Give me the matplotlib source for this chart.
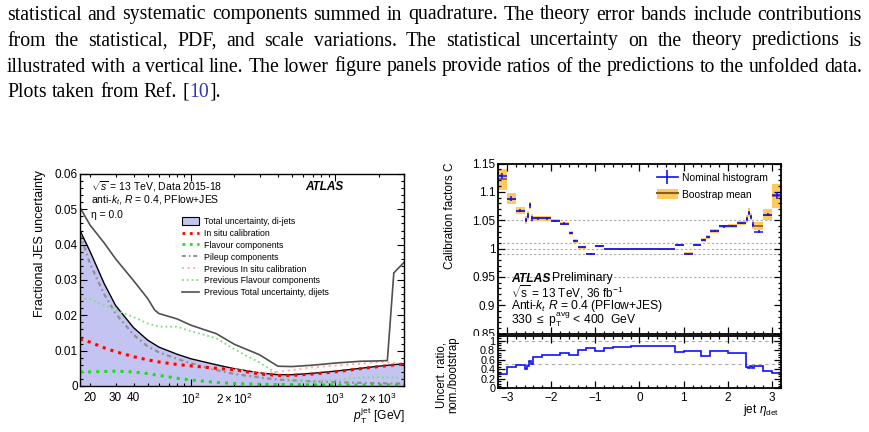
import matplotlib
matplotlib.use("Agg")
import matplotlib.pyplot as plt
import numpy as np
from matplotlib.patches import Patch
from matplotlib.lines import Line2D
from matplotlib.ticker import MultipleLocator
from matplotlib.transforms import Bbox, TransformedBbox

plt.rcParams['font.family'] = ['Liberation Sans', 'DejaVu Sans']
plt.rcParams['mathtext.fontset'] = 'custom'
plt.rcParams['mathtext.rm'] = 'Liberation Sans'
plt.rcParams['mathtext.it'] = 'Liberation Sans:italic'
plt.rcParams['mathtext.bf'] = 'Liberation Sans:bold'

# ---- caption text ----
caption_lines = [
    "statistical and systematic components summed in quadrature.  The theory error bands include contributions",
    "from the statistical, PDF, and scale variations.  The statistical uncertainty on the theory predictions is",
    "illustrated with a vertical line. The lower figure panels provide ratios of the predictions to the unfolded data.",
]
caption_last = ["Plots", "taken", "from", "Ref."]
caption_ref = "10"

# ---- left panel: JES uncertainty vs pT ----
pt = [17, 20, 25, 30, 40, 50, 60, 80, 100, 150, 200, 300, 400, 500, 700, 1000, 1500, 2000, 2500, 3000]
total_unc = [0.044, 0.038, 0.029, 0.0228, 0.0165, 0.0130, 0.0110, 0.0090, 0.0077, 0.0060, 0.0049, 0.0037,
             0.0032, 0.0032, 0.0036, 0.0042, 0.0050, 0.0056, 0.0060, 0.0063]
insitu = [0.0133, 0.0124, 0.0108, 0.0097, 0.0083, 0.0074, 0.0068, 0.0061, 0.0057, 0.0050, 0.0046, 0.0034,
          0.0030, 0.0030, 0.0034, 0.0040, 0.0049, 0.0055, 0.0059, 0.0062]
flavour = [0.0040, 0.0040, 0.0041, 0.0042, 0.0040, 0.0035, 0.0030, 0.0022, 0.0017, 0.0010, 0.0007, 0.0005,
           0.0004, 0.0004, 0.0003, 0.0003, 0.0003, 0.0003, 0.0003, 0.0003]
pileup = [0.043, 0.0345, 0.026, 0.0205, 0.0145, 0.0112, 0.0095, 0.0077, 0.0064, 0.0045, 0.0034, 0.0024,
          0.0018, 0.0016, 0.0013, 0.0011, 0.0009, 0.0008, 0.0007, 0.0007]
prev_insitu = [0.0135, 0.0126, 0.0110, 0.0099, 0.0085, 0.0076, 0.0070, 0.0062, 0.0058, 0.0051, 0.0047, 0.0036,
               0.0040, 0.0045, 0.0053, 0.0058, 0.0063, 0.0068, 0.0066, 0.0063]
prev_flavour = [0.0248, 0.0246, 0.0228, 0.0215, 0.0195, 0.0177, 0.0168, 0.0168, 0.0155, 0.0135, 0.0104, 0.0066,
                0.0034, 0.0015, 0.0012, 0.0017, 0.0024, 0.0025, 0.0024, 0.0022]
pt_prev_total = [17, 20, 25, 30, 40, 50, 56, 60, 80, 100, 150, 200, 300, 400, 500, 700, 1000, 1500, 2000, 2300, 2550, 3000]
prev_total = [0.0505, 0.0455, 0.0405, 0.036, 0.0298, 0.0248, 0.0215, 0.0205, 0.019, 0.0172, 0.0148, 0.0118, 0.0088,
              0.0056, 0.0055, 0.0059, 0.0065, 0.0070, 0.0071, 0.0072, 0.032, 0.035]

left_labels = ["Total uncertainty, di-jets", "In situ calibration", "Flavour components", "Pileup components",
               "Previous In situ calibration", "Previous Flavour components", "Previous Total uncertainty, dijets"]

# ---- right panel: calibration factors vs eta ----
eta_edges = [-3.2, -3.0, -2.8, -2.6, -2.55, -2.5, -2.45, -2.4, -2.2, -2.0, -1.8, -1.6, -1.5, -1.4, -1.2, -1.0,
             -0.8, -0.6, -0.4, -0.2, 0.0, 0.2, 0.4, 0.6, 0.8, 1.0, 1.2, 1.4, 1.5, 1.6, 1.8, 2.0, 2.2, 2.4,
             2.45, 2.5, 2.55, 2.6, 2.8, 3.0, 3.2]
c_nominal = [1.128, 1.088, 1.067, 1.050, 1.058, 1.076, 1.053, 1.053, 1.053, 1.049, 1.044, 1.027, 1.013, 1.002,
             0.990, 1.005, 1.0, 1.0, 1.0, 1.0, 1.0, 1.0, 1.0, 1.0, 1.006, 0.991, 1.007, 1.015, 1.020, 1.031,
             1.039, 1.040, 1.045, 1.052, 1.063, 1.056, 1.042, 1.030, 1.060, 1.094]
c_nominal_err = [0.006, 0.004, 0.003, 0.004, 0.004, 0.004, 0.004, 0.002, 0.002, 0.002, 0.002, 0.002, 0.002,
                 0.0015, 0.0015, 0.0015, 0, 0, 0, 0, 0, 0, 0, 0, 0.0015, 0.0015, 0.0015, 0.002, 0.002, 0.002,
                 0.002, 0.002, 0.002, 0.004, 0.004, 0.004, 0.004, 0.002, 0.003, 0.006]
c_boot = [1.122, 1.088, 1.067, 1.051, 1.059, 1.076, 1.054, 1.053, 1.053, 1.049, 1.044, 1.027, 1.013, 1.002,
          0.990, 1.005, 1.0, 1.0, 1.0, 1.0, 1.0, 1.0, 1.0, 1.0, 1.006, 0.991, 1.007, 1.015, 1.020, 1.031,
          1.039, 1.040, 1.045, 1.052, 1.063, 1.056, 1.042, 1.040, 1.060, 1.093]
c_boot_err = [0.019, 0.010, 0.006, 0.007, 0.008, 0.006, 0.007, 0.004, 0.004, 0.003, 0.003, 0.003, 0.003, 0.002,
              0.002, 0.002, 0, 0, 0, 0, 0, 0, 0, 0, 0.002, 0.002, 0.002, 0.003, 0.003, 0.003, 0.003, 0.003,
              0.003, 0.007, 0.008, 0.006, 0.007, 0.007, 0.009, 0.021]
unc_ratio = [0.30, 0.45, 0.48, 0.40, 0.46, 0.57, 0.51, 0.66, 0.70, 0.71, 0.75, 0.69, 0.69, 0.80, 0.84, 0.79,
             0.85, 0.86, 0.87, 0.88, 0.89, 0.895, 0.895, 0.89, 0.77, 0.78, 0.78, 0.68, 0.67, 0.78, 0.78, 0.75,
             0.75, 0.45, 0.43, 0.47, 0.42, 0.47, 0.36, 0.33]

W, H = 870, 432
fig = plt.figure(figsize=(W / 100, H / 100), dpi=100)


def fx(x):
    return x / W


def fy(y):
    return 1 - y / H


# ---- caption, justified word by word ----
renderer = fig.canvas.get_renderer()
cap_size = 14.2
serif = ['Liberation Serif', 'DejaVu Serif']
x_left, x_right = 7, 862
baselines = [19.5, 45.5, 71.5, 97]


def word_width(t):
    return t.get_window_extent(renderer).width


for line, yb in zip(caption_lines, baselines):
    words = line.split()
    texts = [fig.text(0, fy(yb), w, family=serif, fontsize=cap_size, va='baseline') for w in words]
    widths = [word_width(t) for t in texts]
    gap = (x_right - x_left - sum(widths)) / (len(words) - 1)
    x = x_left
    for t, w in zip(texts, widths):
        t.set_x(fx(x))
        x += w + gap

space = 0.27 * cap_size * 100 / 72
x = x_left
for w in caption_last:
    t = fig.text(fx(x), fy(baselines[3]), w, family=serif, fontsize=cap_size, va='baseline')
    x += word_width(t) + space
for piece, col in [("[", 'black'), (caption_ref, '#3333bb'), ("].", 'black')]:
    t = fig.text(fx(x), fy(baselines[3]), piece, family=serif, fontsize=cap_size, va='baseline', color=col)
    x += word_width(t)

# ---- left plot ----
ax1 = fig.add_axes([fx(80), fy(386), fx(404) - fx(80), fy(174) - fy(386)])
lav = '#c4c4f2'
ax1.fill_between(pt, 0, total_unc, color=lav, lw=0)
ax1.plot(pt, total_unc, color='black', lw=1)
ax1.plot(pt, pileup, color='#909090', ls=(0, (2, 1.5, 0.8, 1.5)), lw=1.6)
ax1.plot(pt, prev_flavour, color='#7fdc7f', ls=':', lw=1.3)
ax1.plot(pt, prev_insitu, color='#ffb4b4', ls=':', lw=1.6)
ax1.plot(pt_prev_total, prev_total, color='#505050', lw=1.2)
ax1.plot(pt, insitu, color='red', ls=':', lw=2.2)
ax1.plot(pt, flavour, color='#1fdc1f', ls=':', lw=2.2)

ax1.set_xscale('log')
ax1.set_xlim(17, 3000)
ax1.set_ylim(0, 0.06)
ax1.set_xticks([100, 1000], [r'$10^{2}$', r'$10^{3}$'])
minor_pos = [20, 30, 40, 50, 60, 70, 80, 90, 200, 300, 400, 500, 600, 700, 800, 900, 2000, 3000]
minor_lab = ['20', '30', '40', '', '', '', '', '', r'$2\times10^{2}$', '', '', '', '', '', '', '',
             r'$2\times10^{3}$', '']
ax1.set_xticks(minor_pos, minor_lab, minor=True)
ax1.set_yticks([0, 0.01, 0.02, 0.03, 0.04, 0.05, 0.06], ['0', '0.01', '0.02', '0.03', '0.04', '0.05', '0.06'])
ax1.yaxis.set_minor_locator(MultipleLocator(0.002))
ax1.tick_params(which='both', direction='in', top=True, right=True, labelsize=8.5)
ax1.tick_params(which='major', length=5, width=0.8)
ax1.tick_params(which='minor', length=2.5, width=0.8)
ax1.tick_params(axis='x', which='both', pad=4)
ax1.tick_params(axis='y', which='both', pad=1.5)
for s in ax1.spines.values():
    s.set_linewidth(1)

fig.text(fx(40), fy(244), 'Fractional JES uncertainty', rotation=90, ha='center', va='center', fontsize=9)
fig.text(fx(405), fy(416), r'$p_{\mathrm{T}}^{\mathrm{jet}}$ [GeV]', ha='right', va='center', fontsize=8.7)
fig.text(fx(91), fy(186.5), r'$\sqrt{s}$ = 13 TeV, Data 2015-18', va='center', fontsize=7.5)
fig.text(fx(91), fy(200.5), r'anti-$k_{t}$, $R$ = 0.4, PFlow+JES', va='center', fontsize=7.5)
fig.text(fx(91), fy(215), r'η = 0.0', va='center', fontsize=7.5)
fig.text(fx(305), fy(186.5), 'ATLAS', va='center', fontsize=8.5, fontweight='bold', style='italic')

left_handles = [
    Patch(facecolor=lav, edgecolor='black', lw=0.8),
    Line2D([], [], color='red', ls=':', lw=2),
    Line2D([], [], color='#1fdc1f', ls=':', lw=2),
    Line2D([], [], color='#909090', ls=(0, (2, 1.5, 0.8, 1.5)), lw=1.4),
    Line2D([], [], color='#ffb4b4', ls=':', lw=1.5),
    Line2D([], [], color='#7fdc7f', ls=':', lw=1.3),
    Line2D([], [], color='#505050', lw=1.2),
]
ax1.legend(left_handles, left_labels, loc='upper left', bbox_to_anchor=(fx(182), fy(217)),
           bbox_transform=fig.transFigure, frameon=False, fontsize=6.3, handlelength=1.9,
           handleheight=0.9, handletextpad=0.6, labelspacing=0.33, borderpad=0, borderaxespad=0)

# ---- right plot: upper panel ----
edges = np.array(eta_edges)
centers = (edges[:-1] + edges[1:]) / 2
widths = edges[1:] - edges[:-1]
boot = np.array(c_boot)
berr = np.array(c_boot_err)

ax2 = fig.add_axes([fx(498), fy(333.5), fx(781) - fx(498), fy(163.5) - fy(333.5)])
orange = '#ffc95e'
brown = '#8c5a28'
for yv in [1.05, 1.01, 1.0, 0.99, 0.95]:
    ax2.axhline(yv, color='#aaaaaa', ls=(0, (2, 2)), lw=0.8, zorder=0)
ax2.bar(centers, 2 * berr, bottom=boot - berr, width=widths, color=orange, lw=0, zorder=1)
ax2.hlines(boot, edges[:-1], edges[1:], color=brown, lw=1.2, zorder=2)
ax2.errorbar(centers, c_nominal, xerr=widths / 2, yerr=c_nominal_err, fmt='none', ecolor='#1010ff',
             elinewidth=1.1, zorder=3)
ax2.set_xlim(-3.2, 3.2)
ax2.set_ylim(0.85, 1.15)
ax2.set_yticks([0.85, 0.9, 0.95, 1.0, 1.05, 1.1, 1.15], ['0.85', '0.9', '0.95', '1', '1.05', '1.1', '1.15'])
ax2.yaxis.set_minor_locator(MultipleLocator(0.01))
ax2.xaxis.set_major_locator(MultipleLocator(1))
ax2.xaxis.set_minor_locator(MultipleLocator(0.2))
ax2.tick_params(which='both', direction='in', top=True, right=True, labelsize=8.5, labelbottom=False)
ax2.tick_params(which='major', length=5, width=0.9)
ax2.tick_params(which='minor', length=2.5, width=0.9)
ax2.tick_params(axis='y', which='both', pad=2)
for s in ax2.spines.values():
    s.set_linewidth(1.3)

# the lower pad hides the bottom half of the "0.85" label
clip = TransformedBbox(Bbox([[0, fy(335.5)], [1, 1]]), fig.transFigure)
for lab in ax2.get_yticklabels():
    lab.set_clip_on(True)
    lab.set_clip_box(clip)

right_handles = [
    Line2D([], [], color='#1010ff', lw=1.2, marker='|', markersize=10, markeredgewidth=1.2),
    (Patch(facecolor=orange, edgecolor='none'), Line2D([], [], color=brown, lw=1.5)),
]
ax2.legend(right_handles, ['Nominal histogram', 'Boostrap mean'], loc='upper left',
           bbox_to_anchor=(fx(657), fy(173)), bbox_transform=fig.transFigure, frameon=False,
           fontsize=7.4, handlelength=2.0, handleheight=1.1, handletextpad=0.45, labelspacing=0.55,
           borderpad=0, borderaxespad=0)

fig.text(fx(450), fy(215.5), 'Calibration factors C', rotation=90, ha='center', va='center', fontsize=8.5)
fig.text(fx(511.5), fy(278.5), 'ATLAS', va='center', fontsize=8.7, fontweight='bold', style='italic')
fig.text(fx(552), fy(278.5), 'Preliminary', va='center', fontsize=8.7)
fig.text(fx(511.5), fy(292), r'$\sqrt{\mathrm{s}}$ = 13 TeV, 36 fb$^{-1}$', va='center', fontsize=8.5)
fig.text(fx(511.5), fy(305.5), r'Anti-$k_{t}$ $R$ = 0.4 (PFlow+JES)', va='center', fontsize=8.7)
fig.text(fx(511.5), fy(319.5), r'330 $\leq$ p$_{\mathrm{T}}^{\mathrm{avg}}$ < 400  GeV', va='center',
         fontsize=8.7)

# ---- right plot: lower panel ----
ax3 = fig.add_axes([fx(498), fy(388.3), fx(781) - fx(498), fy(335.7) - fy(388.3)])
for yv in [1.0, 0.5]:
    ax3.axhline(yv, color='#aaaaaa', ls=(0, (3, 3)), lw=0.8, zorder=0)
ax3.stairs(unc_ratio, edges, color='#1010ff', lw=1.2, baseline=None)
ax3.set_xlim(-3.2, 3.2)
ax3.set_ylim(0, 1.105)
ax3.set_yticks([0, 0.2, 0.4, 0.6, 0.8, 1.0], ['0', '0.2', '0.4', '0.6', '0.8', '1'])
ax3.yaxis.set_minor_locator(MultipleLocator(0.05))
ax3.set_xticks([-3, -2, -1, 0, 1, 2, 3], ['\u22123', '\u22122', '\u22121', '0', '1', '2', '3'])
ax3.xaxis.set_minor_locator(MultipleLocator(0.2))
ax3.tick_params(which='both', direction='in', top=True, right=True, labelsize=8.5)
ax3.tick_params(axis='y', labelsize=7.8)
ax3.tick_params(which='major', length=5, width=0.9)
ax3.tick_params(which='minor', length=2.5, width=0.9)
ax3.tick_params(axis='y', which='both', pad=2)
ax3.tick_params(axis='x', which='both', pad=3)
for s in ax3.spines.values():
    s.set_linewidth(1.3)

fig.text(fx(447.5), fy(374.5), 'Uncert. ratio,\nnom./bootstrap', rotation=90, ha='center', va='center',
         fontsize=8.3, linespacing=1.05)
fig.text(fx(779), fy(410), r'jet $\eta_{\mathrm{det}}$', ha='right', va='center', fontsize=8.5)

fig.savefig('out.png', dpi=100)
